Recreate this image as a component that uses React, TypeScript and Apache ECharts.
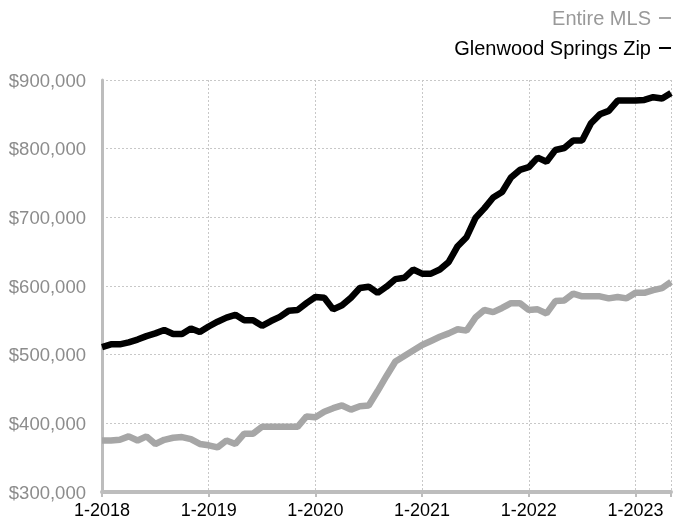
import React, { useEffect, useRef } from "react";
import * as echarts from "echarts";

// Months from 1-2018 (index 0) to 5-2023 (index 64)
const startYear = 2018;
const yearTicks = ["1-2018", "1-2019", "1-2020", "1-2021", "1-2022", "1-2023"];

// Values in thousands of dollars
const glenwoodSprings = [
  511, 515, 515, 518, 522, 527, 531, 536, 530, 530, 538, 533,
  541, 548, 554, 558, 550, 550, 542, 549, 555, 564, 565, 575,
  584, 583, 566, 572, 583, 597, 599, 590, 599, 610, 612, 624,
  618, 618, 624, 635, 658, 671, 699, 713, 729, 737, 758, 769,
  773, 787, 781, 798, 801, 812, 812, 837, 850, 855, 870, 870,
  870, 871, 875, 873, 881,
];

const entireMLS = [
  375, 375, 376, 381, 375, 381, 370, 376, 379, 380, 377, 370,
  368, 365, 375, 370, 385, 385, 395, 395, 395, 395, 395, 410,
  409, 417, 422, 426, 420, 425, 426, 447, 469, 490, 498, 506,
  514, 520, 526, 531, 537, 535, 554, 565, 562, 568, 575, 575,
  565, 566, 560, 578, 579, 589, 585, 585, 585, 582, 584, 582,
  590, 590, 594, 597, 606,
];

const seriesNames = ["Entire MLS", "Glenwood Springs Zip"];

const FONT = "'Liberation Sans', Arial, Helvetica, sans-serif";

export default function App() {
  const ref = useRef<HTMLDivElement>(null);

  useEffect(() => {
    if (!ref.current) return;
    const chart = echarts.init(ref.current, undefined, { renderer: "svg" });
    const toPairs = (arr: number[]) => arr.map((v, i) => [i, v * 1000]);
    const lastIndex = glenwoodSprings.length - 1;

    chart.setOption({
      animation: false,
      textStyle: { fontFamily: FONT },
      legend: {
        orient: "vertical",
        right: 18,
        top: 8,
        padding: 0,
        align: "right",
        icon: "rect",
        itemWidth: 12,
        itemHeight: 2,
        itemGap: 10,
        textStyle: { fontSize: 20, fontFamily: FONT, lineHeight: 20, padding: [0, 3, 0, 0] },
        data: [
          { name: seriesNames[0], textStyle: { color: "#999999" } },
          { name: seriesNames[1], textStyle: { color: "#000000" } },
        ],
      },
      grid: { left: 102, right: 18, top: 80, bottom: 33 },
      xAxis: {
        type: "value",
        min: 0,
        max: lastIndex,
        interval: 12,
        axisLine: { show: true, lineStyle: { color: "#bdbdbd", width: 4 } },
        axisTick: { show: true, length: 5, lineStyle: { color: "#bdbdbd", width: 2 } },
        axisLabel: {
          color: "#000000",
          fontSize: 18,
          fontFamily: FONT,
          margin: 9,
          showMaxLabel: true,
          formatter: (v: number) => {
            if (v % 12 !== 0) return "";
            const idx = v / 12;
            return yearTicks[idx] ?? "1-" + (startYear + idx);
          },
        },
        splitLine: { show: true, lineStyle: { color: "#c8c8c8", type: [2, 2], width: 1 } },
      },
      yAxis: {
        type: "value",
        min: 300000,
        max: 900000,
        interval: 100000,
        axisLine: { show: true, lineStyle: { color: "#bdbdbd", width: 3 } },
        axisTick: { show: false },
        axisLabel: {
          color: "#8c8c8c",
          fontSize: 18.5,
          fontFamily: FONT,
          margin: 16,
          formatter: (v: number) => "$" + v.toLocaleString("en-US"),
        },
        splitLine: { show: true, lineStyle: { color: "#c8c8c8", type: [2, 2], width: 1 } },
      },
      series: [
        {
          name: seriesNames[0],
          type: "line",
          data: toPairs(entireMLS),
          showSymbol: false,
          symbol: "none",
          color: "#a6a6a6",
          lineStyle: { color: "#a6a6a6", width: 6.5 },
          z: 2,
        },
        {
          name: seriesNames[1],
          type: "line",
          data: toPairs(glenwoodSprings),
          showSymbol: false,
          symbol: "none",
          color: "#000000",
          lineStyle: { color: "#000000", width: 6.5 },
          z: 3,
        },
      ],
    });

    return () => chart.dispose();
  }, []);

  return (
    <div
      ref={ref}
      style={{ position: "fixed", left: 0, top: 0, width: 689, height: 525 }}
    />
  );
}
